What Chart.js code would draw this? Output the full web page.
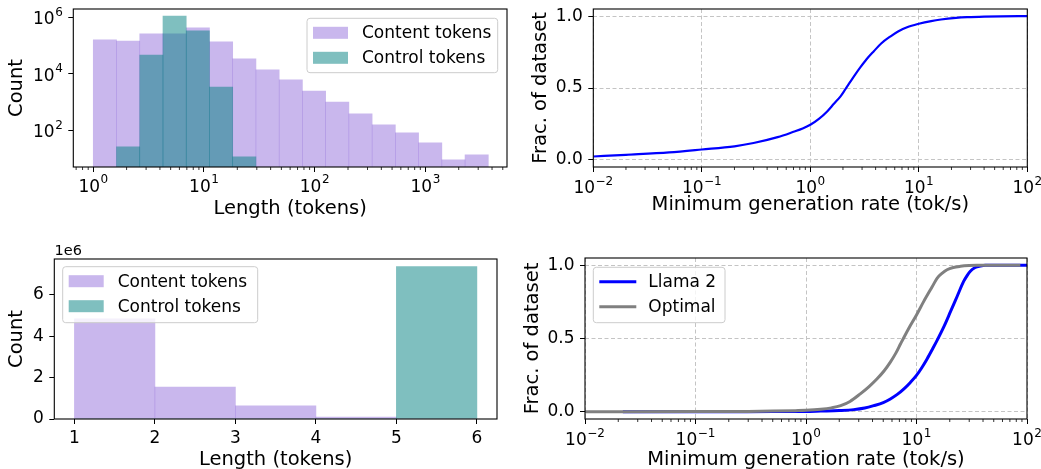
<!DOCTYPE html>
<html>
<head>
<meta charset="utf-8">
<script src="https://cdn.jsdelivr.net/npm/chart.js@4.4.1/dist/chart.umd.min.js"></script>
<style>
    body { margin: 0; background: #fff; }
    canvas { position: absolute; }
</style>
</head>
<body>
<canvas id="histLog" width="520" height="230" style="left:0;top:0"></canvas>
<canvas id="rateCdf" width="521" height="230" style="left:520px;top:0"></canvas>
<canvas id="histLin" width="520" height="239" style="left:0;top:230px"></canvas>
<canvas id="rateCompare" width="521" height="239" style="left:520px;top:230px"></canvas>
<script>
// top left: token length histogram, log bins
const logBinEdges = [1, 1.621, 2.629, 4.263, 6.911, 11.21, 18.17, 29.47, 47.78, 77.47, 125.6, 203.6, 330.2, 535.4, 868.1, 1408, 2282, 3700];
const contentLogCounts = [1.6e5, 1.45e5, 2.6e5, 2.6e5, 4.2e5, 1.35e5, 3.4e4, 1.37e4, 6.1e3, 2.45e3, 1.0e3, 380, 155, 81, 36, 8.9, 13.5];
const controlLogCounts = [null, 26, 4.6e4, 1.1e6, 3.3e5, 3.4e3, 11.5, null, null, null, null, null, null, null, null, null, null];
const logLengthTicks = [1, 10, 100, 1000];
const logCountTicks = [100, 1e4, 1e6];

// top right: single CDF
const cdfRates = [0.01, 0.02, 0.05, 0.1, 0.2, 0.3, 0.5, 0.7, 0.85, 1, 1.2, 1.43, 1.65, 1.9, 2.1, 2.35, 2.6, 2.9, 3.3, 3.85, 4.5, 5.5, 6.5, 7.8, 10, 13, 16, 22, 28, 40, 57, 100];
const cdfFrac = [0.023, 0.035, 0.052, 0.072, 0.094, 0.117, 0.158, 0.195, 0.218, 0.244, 0.285, 0.337, 0.39, 0.442, 0.49, 0.546, 0.595, 0.645, 0.7, 0.756, 0.81, 0.86, 0.895, 0.923, 0.947, 0.966, 0.977, 0.988, 0.993, 0.997, 0.999, 1.0];

// bottom left: token length histogram, linear bins
const linBinEdges = [1, 2, 3, 4, 5, 6];
const contentLinCounts = [4.84e6, 1.54e6, 0.64e6, 0.09e6, 0];
const controlLinCounts = [0, 0, 0, 0, 7.36e6];
const linLengthTicks = [1, 2, 3, 4, 5, 6];
const linCountTicks = [0, 2e6, 4e6, 6e6];

// bottom right: Llama 2 vs optimal
const llamaRates = [0.022, 0.1, 0.5, 1, 1.36, 2, 2.7, 3.4, 4.1, 5, 5.8, 6.7, 7.7, 8.8, 10, 11.2, 12.5, 14, 15.4, 17.7, 20.3, 23.3, 26.7, 28.7, 30.7, 34, 37.8, 42, 100];
const llamaFrac = [0, 0, 0.0005, 0.001, 0.004, 0.008, 0.014, 0.025, 0.041, 0.062, 0.087, 0.118, 0.156, 0.2, 0.248, 0.302, 0.362, 0.43, 0.489, 0.581, 0.683, 0.787, 0.89, 0.93, 0.96, 0.985, 0.995, 1.0, 1.0];
const optimalRates = [0.01, 0.1, 0.3, 0.5, 0.8, 1, 1.36, 1.7, 2.06, 2.5, 3.1, 3.7, 4.4, 5.1, 5.8, 6.5, 7.2, 8.5, 10, 11.6, 13.9, 15.4, 17, 18.9, 21.5, 25, 30, 35, 87];
const optimalFrac = [0, 0.001, 0.002, 0.004, 0.007, 0.009, 0.016, 0.026, 0.041, 0.07, 0.122, 0.17, 0.225, 0.28, 0.339, 0.4, 0.466, 0.569, 0.661, 0.752, 0.855, 0.913, 0.945, 0.97, 0.985, 0.993, 0.998, 1.0, 1.0];

const rateTicks = [0.01, 0.1, 1, 10, 100];
const fracTicks = [0, 0.5, 1];

const PURPLE = "rgba(147, 112, 219, 0.5)";
const TEAL = "rgba(0, 128, 128, 0.5)";
const FONT = "'DejaVu Sans', sans-serif";

Chart.defaults.font.family = FONT;
Chart.defaults.color = "#000";

function centers(edges) {
    const out = [];
    for (let i = 0; i < edges.length - 1; i++) {
        out.push((edges[i] + edges[i + 1]) / 2);
    }
    return out;
}

function logCenters(edges) {
    const out = [];
    for (let i = 0; i < edges.length - 1; i++) {
        out.push(Math.sqrt(edges[i] * edges[i + 1]));
    }
    return out;
}

function points(xs, ys) {
    return xs.map((x, i) => ({ x: x, y: ys[i] }));
}

function setTicks(list) {
    return scale => { scale.ticks = list.map(v => ({ value: v })); };
}

function fixHeight(h) {
    return scale => {
        scale.height = h;
        scale.paddingLeft = 0;
        scale.paddingRight = 0;
    };
}

function fixWidth(w) {
    return scale => {
        scale.width = w;
        scale.paddingTop = 0;
        scale.paddingBottom = 0;
    };
}

// "10" with a raised exponent, like matplotlib's mathtext tick labels
function drawPowerLabels(chart, id, cfg) {
    const s = chart.scales[id];
    const a = chart.chartArea;
    const ctx = chart.ctx;
    ctx.save();
    ctx.fillStyle = "#000";
    ctx.textBaseline = "alphabetic";
    s.ticks.forEach(t => {
        const base = "10";
        const exp = String(Math.round(Math.log10(t.value))).replace("-", "\u2212");
        ctx.font = "17px " + FONT;
        const wb = ctx.measureText(base).width;
        ctx.font = "12px " + FONT;
        const we = ctx.measureText(exp).width;
        const total = wb + 0.5 + we;
        let x0, y0;
        if (s.isHorizontal()) {
            x0 = s.getPixelForValue(t.value) - total / 2;
            y0 = a.bottom + cfg.dy;
        } else {
            x0 = a.left - cfg.dx - total;
            y0 = s.getPixelForValue(t.value) + cfg.dy;
        }
        ctx.font = "17px " + FONT;
        ctx.fillText(base, x0, y0);
        ctx.font = "12px " + FONT;
        ctx.fillText(exp, x0 + wb + 0.5, y0 - 8.5);
    });
    ctx.restore();
}

function drawLegend(chart, box, isBar) {
    const ctx = chart.ctx;
    ctx.save();
    ctx.fillStyle = "rgba(255, 255, 255, 0.8)";
    ctx.strokeStyle = "#cccccc";
    ctx.lineWidth = 1;
    ctx.beginPath();
    ctx.roundRect(box.x, box.y, box.w, box.h, 3);
    ctx.fill();
    ctx.stroke();

    ctx.font = "17px " + FONT;
    ctx.textBaseline = "middle";

    chart.data.datasets.forEach((ds, i) => {
        const cy = box.y + 14.5 + i * 25;
        if (isBar) {
            ctx.fillStyle = ds.backgroundColor;
            ctx.fillRect(box.x + 6, cy - 6, 35, 12);
        } else {
            ctx.strokeStyle = ds.borderColor;
            ctx.lineWidth = ds.borderWidth;
            ctx.beginPath();
            ctx.moveTo(box.x + 6, cy);
            ctx.lineTo(box.x + 43, cy);
            ctx.stroke();
        }
        ctx.fillStyle = "#000";
        ctx.fillText(ds.label, box.x + 55, cy + 1);
    });
    ctx.restore();
}

const panelExtras = {
    id: "panelExtras",
    afterDatasetsDraw(chart, args, opts) {
        const ctx = chart.ctx;
        const a = chart.chartArea;
        ctx.save();

        if (opts.minorX) {
            const s = chart.scales.x;
            ctx.strokeStyle = "#000";
            ctx.lineWidth = 0.8;
            for (let e = Math.floor(Math.log10(s.min)); e <= Math.log10(s.max); e++) {
                for (let m = 2; m < 10; m++) {
                    const v = m * Math.pow(10, e);
                    if (v < s.min || v > s.max) continue;
                    const px = s.getPixelForValue(v);
                    ctx.beginPath();
                    ctx.moveTo(px, a.bottom);
                    ctx.lineTo(px, a.bottom + 3);
                    ctx.stroke();
                }
            }
        }

        ctx.strokeStyle = "#000";
        ctx.lineWidth = 1.1;
        ctx.strokeRect(a.left, a.top, a.right - a.left, a.bottom - a.top);

        if (opts.offsetText) {
            ctx.fillStyle = "#000";
            ctx.font = "14.5px " + FONT;
            ctx.textBaseline = "alphabetic";
            ctx.fillText(opts.offsetText.text, opts.offsetText.x, opts.offsetText.y);
        }

        ctx.restore();

        if (opts.powerX) drawPowerLabels(chart, "x", opts.powerX);
        if (opts.powerY) drawPowerLabels(chart, "y", opts.powerY);

        if (opts.legend) {
            drawLegend(chart, opts.legend, chart.config.type === "bar");
        }
    }
};

function tickFont() {
    return { size: 17 };
}

function titleFont() {
    return { size: 19.5, lineHeight: 1.2 };
}

function baseOptions(padding) {
    return {
        responsive: false,
        animation: false,
        events: [],
        layout: { padding: padding, autoPadding: false },
        plugins: { legend: { display: false }, tooltip: { enabled: false } }
    };
}

function plainGrid() {
    return { drawOnChartArea: false, offset: false, tickLength: 5, tickColor: "#000", tickWidth: 1 };
}

function dashedGrid() {
    return { drawOnChartArea: true, offset: false, tickLength: 5, color: "#c4c4c4", lineWidth: 1, tickColor: "#000", tickWidth: 1 };
}

// ---------- top left ----------
function renderHistLog() {
    const xs = logCenters(logBinEdges);
    const opts = baseOptions({ left: 0, top: 9, right: 13, bottom: 0 });
    opts.scales = {
        x: {
            type: "logarithmic", min: 0.66, max: 5460, offset: false,
            grid: plainGrid(), border: { display: false },
            ticks: { autoSkip: false, maxRotation: 0, padding: 4, font: tickFont(), callback: () => "" },
            title: { display: true, text: "Length (tokens)", font: titleFont(), padding: { top: 0, bottom: 9 } },
            afterBuildTicks: setTicks(logLengthTicks),
            afterFit: fixHeight(63)
        },
        y: {
            type: "logarithmic", min: 5, max: 1.97e6,
            grid: plainGrid(), border: { display: false },
            ticks: { autoSkip: false, padding: 5.5, font: tickFont(), callback: () => "" },
            title: { display: true, text: "Count", font: titleFont(), padding: { top: 5.5, bottom: 0 } },
            afterBuildTicks: setTicks(logCountTicks),
            afterFit: fixWidth(73.3)
        }
    };
    opts.plugins.panelExtras = {
        minorX: true,
        powerX: { dy: 24.7 },
        powerY: { dx: 10.5, dy: 6.8 },
        legend: { x: 307, y: 18.3, w: 190.7, h: 54.4 }
    };

    new Chart(document.getElementById("histLog"), {
        type: "bar",
        data: {
            datasets: [{
                label: "Content tokens",
                data: points(xs, contentLogCounts),
                backgroundColor: PURPLE,
                order: 1
            }, {
                label: "Control tokens",
                data: points(xs, controlLogCounts),
                backgroundColor: TEAL,
                order: 0
            }]
        },
        options: Object.assign(opts, {
            datasets: { bar: { grouped: false, barPercentage: 1, categoryPercentage: 1, borderWidth: 0 } }
        }),
        plugins: [panelExtras]
    });
}

// ---------- top right ----------
function renderRateCdf() {
    const opts = baseOptions({ left: 0, top: 9, right: 13.7, bottom: 0 });
    opts.scales = {
        x: {
            type: "logarithmic", min: 0.01, max: 100,
            grid: dashedGrid(), border: { display: false, dash: [4, 2.5] },
            ticks: { autoSkip: false, maxRotation: 0, padding: 4, font: tickFont(), callback: () => "" },
            title: { display: true, text: "Minimum generation rate (tok/s)", font: titleFont(), padding: { top: 0, bottom: 13 } },
            afterBuildTicks: setTicks(rateTicks),
            afterFit: fixHeight(63)
        },
        y: {
            type: "linear", min: -0.05, max: 1.05,
            grid: dashedGrid(), border: { display: false, dash: [4, 2.5] },
            ticks: { autoSkip: false, padding: 5.5, font: tickFont(), callback: v => v.toFixed(1) },
            title: { display: true, text: "Frac. of dataset", font: titleFont(), padding: { top: 9, bottom: 0 } },
            afterBuildTicks: setTicks(fracTicks),
            afterFit: fixWidth(73.3)
        }
    };
    opts.plugins.panelExtras = { minorX: true, powerX: { dy: 26 } };

    new Chart(document.getElementById("rateCdf"), {
        type: "line",
        data: {
            datasets: [{
                label: "Llama 2",
                data: points(cdfRates, cdfFrac),
                borderColor: "#0000ff",
                borderWidth: 2.2,
                pointRadius: 0,
                cubicInterpolationMode: "monotone"
            }]
        },
        options: opts,
        plugins: [panelExtras]
    });
}

// ---------- bottom left ----------
function renderHistLin() {
    const xs = centers(linBinEdges);
    const opts = baseOptions({ left: 0, top: 29, right: 23, bottom: 0 });
    opts.scales = {
        x: {
            type: "linear", min: 0.75, max: 6.25, offset: false,
            grid: plainGrid(), border: { display: false },
            ticks: { autoSkip: false, maxRotation: 0, padding: 4, font: tickFont(), callback: v => String(v) },
            title: { display: true, text: "Length (tokens)", font: titleFont(), padding: { top: 0, bottom: -3 } },
            afterBuildTicks: setTicks(linLengthTicks),
            afterFit: fixHeight(50)
        },
        y: {
            type: "linear", min: 0, max: 7.73e6,
            grid: plainGrid(), border: { display: false },
            ticks: { autoSkip: false, padding: 5.5, font: tickFont(), callback: v => String(v / 1e6) },
            title: { display: true, text: "Count", font: titleFont(), padding: { top: 5.5, bottom: 0 } },
            afterBuildTicks: setTicks(linCountTicks),
            afterFit: fixWidth(54.3)
        }
    };
    opts.plugins.panelExtras = {
        legend: { x: 62.7, y: 36.7, w: 195, h: 56 },
        offsetText: { text: "1e6", x: 54.5, y: 25 }
    };

    new Chart(document.getElementById("histLin"), {
        type: "bar",
        data: {
            datasets: [{
                label: "Content tokens",
                data: points(xs, contentLinCounts),
                backgroundColor: PURPLE,
                order: 1
            }, {
                label: "Control tokens",
                data: points(xs, controlLinCounts),
                backgroundColor: TEAL,
                order: 0
            }]
        },
        options: Object.assign(opts, {
            datasets: { bar: { grouped: false, barPercentage: 1, categoryPercentage: 1, borderWidth: 0 } }
        }),
        plugins: [panelExtras]
    });
}

// ---------- bottom right ----------
function renderRateCompare() {
    const opts = baseOptions({ left: 0, top: 28, right: 14, bottom: 0 });
    opts.scales = {
        x: {
            type: "logarithmic", min: 0.01, max: 100,
            grid: dashedGrid(), border: { display: false, dash: [4, 2.5] },
            ticks: { autoSkip: false, maxRotation: 0, padding: 4, font: tickFont(), callback: () => "" },
            title: { display: true, text: "Minimum generation rate (tok/s)", font: titleFont(), padding: { top: 0, bottom: -3 } },
            afterBuildTicks: setTicks(rateTicks),
            afterFit: fixHeight(50)
        },
        y: {
            type: "linear", min: -0.05, max: 1.05,
            grid: dashedGrid(), border: { display: false, dash: [4, 2.5] },
            ticks: { autoSkip: false, padding: 5.5, font: tickFont(), callback: v => v.toFixed(1) },
            title: { display: true, text: "Frac. of dataset", font: titleFont(), padding: { top: 1, bottom: 0 } },
            afterBuildTicks: setTicks(fracTicks),
            afterFit: fixWidth(65)
        }
    };
    opts.plugins.panelExtras = {
        minorX: true,
        powerX: { dy: 26 },
        legend: { x: 73.3, y: 37.3, w: 131.7, h: 55.4 }
    };

    new Chart(document.getElementById("rateCompare"), {
        type: "line",
        data: {
            datasets: [{
                label: "Llama 2",
                data: points(llamaRates, llamaFrac),
                borderColor: "#0000ff",
                borderWidth: 3,
                pointRadius: 0,
                cubicInterpolationMode: "monotone",
                order: 1
            }, {
                label: "Optimal",
                data: points(optimalRates, optimalFrac),
                borderColor: "#808080",
                borderWidth: 3,
                pointRadius: 0,
                cubicInterpolationMode: "monotone",
                order: 0
            }]
        },
        options: opts,
        plugins: [panelExtras]
    });
}

renderHistLog();
renderRateCdf();
renderHistLin();
renderRateCompare();
</script>
</body>
</html>
